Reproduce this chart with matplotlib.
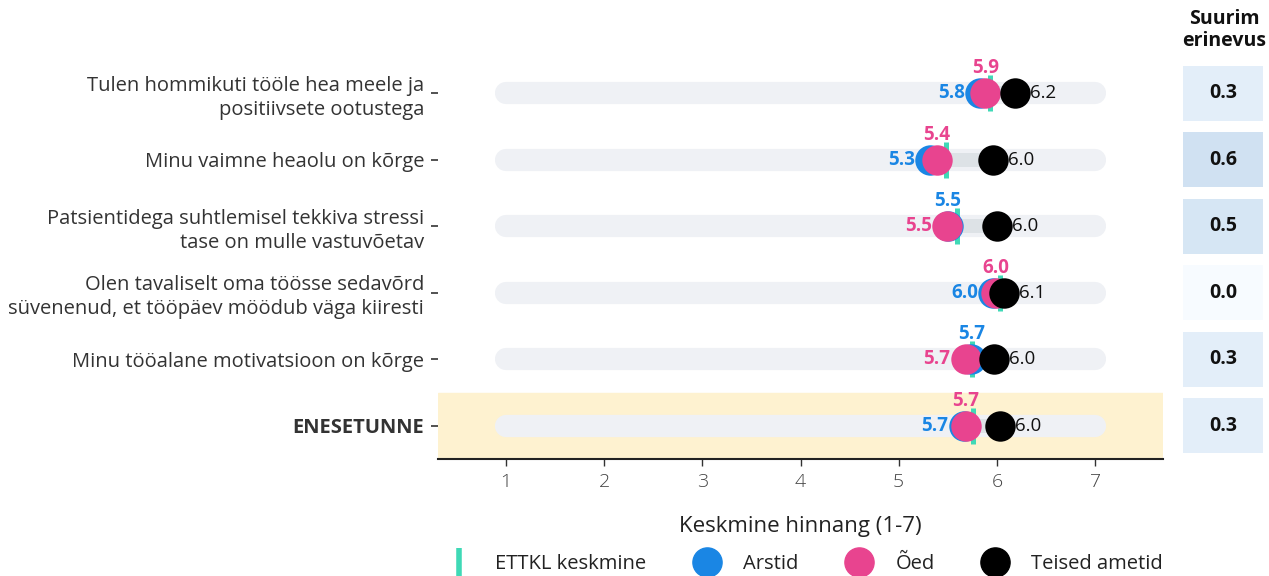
import matplotlib
matplotlib.use("Agg")
import matplotlib.pyplot as plt
from matplotlib.lines import Line2D
import numpy as np

plt.rcParams['font.family'] = ['Open Sans', 'DejaVu Sans']

categories = [
    "Tulen hommikuti tööle hea meele ja\npositiivsete ootustega",
    "Minu vaimne heaolu on kõrge",
    "Patsientidega suhtlemisel tekkiva stressi\ntase on mulle vastuvõetav",
    "Olen tavaliselt oma töösse sedavõrd\nsüvenenud, et tööpäev möödub väga kiiresti",
    "Minu tööalane motivatsioon on kõrge",
    "ENESETUNNE",
]
ettkl = [5.93, 5.48, 5.59, 6.03, 5.75, 5.76]
arstid = [5.83, 5.32, 5.50, 5.96, 5.74, 5.66]
oed = [5.88, 5.39, 5.49, 5.99, 5.68, 5.68]
teised = [6.18, 5.96, 6.00, 6.07, 5.97, 6.03]
suurim_erinevus = [0.3, 0.6, 0.5, 0.0, 0.3, 0.3]
xticks = [1, 2, 3, 4, 5, 6, 7]

C_TEAL = "#3fd9b6"
C_BLUE = "#1a86e4"
C_PINK = "#e8448f"
C_BLACK = "#000000"
C_TRACK = "#eff1f5"
C_RANGE = "#dde2e6"
C_BAND = "#fef2d0"

W, H = 1269, 576
fig = plt.figure(figsize=(W / 100, H / 100), dpi=100)
ax = fig.add_axes([438 / W, 117 / H, 725 / W, 399 / H])
ax2 = fig.add_axes([1183 / W, 117 / H, 80 / W, 399 / H])

n = len(categories)
ys = np.arange(n)

ax.axhspan(n - 1.5, n - 0.5, color=C_BAND, zorder=0)

for i in range(n):
    y = ys[i]
    ax.plot([xticks[0], xticks[-1]], [y, y], color=C_TRACK, lw=16, solid_capstyle='round', zorder=1)
    vals = [arstid[i], oed[i], teised[i]]
    ax.plot([min(vals), max(vals)], [y, y], color=C_RANGE, lw=10, solid_capstyle='butt', zorder=2)
    ax.plot([ettkl[i], ettkl[i]], [y - 0.27, y + 0.27], color=C_TEAL, lw=3.6, solid_capstyle='butt', zorder=3)

ms = 480
ax.scatter(arstid, ys, s=ms, color=C_BLUE, zorder=4, linewidths=0)
ax.scatter(oed, ys, s=ms, color=C_PINK, zorder=5, linewidths=0)
ax.scatter(teised, ys, s=ms, color=C_BLACK, zorder=6, linewidths=0)

# value labels: lowest left, middle above, highest right
for i in range(n):
    y = ys[i]
    groups = [(arstid[i], C_BLUE), (oed[i], C_PINK), (teised[i], C_BLACK)]
    order = sorted(range(3), key=lambda k: (groups[k][0], k))
    lo, mid, hi = order
    v, c = groups[lo]
    ax.annotate(f"{v:.1f}", (v, y), xytext=(-15, 0), textcoords='offset pixels',
                ha='right', va='center', color=c, fontsize=13.5, fontweight='bold', zorder=7)
    v, c = groups[mid]
    ax.annotate(f"{v:.1f}", (v, y), xytext=(0, 25), textcoords='offset pixels',
                ha='center', va='center', color=c, fontsize=13.5, fontweight='bold', zorder=7)
    v, c = groups[hi]
    ax.annotate(f"{v:.1f}", (v, y), xytext=(15, 0), textcoords='offset pixels',
                ha='left', va='center', color="#111111", fontsize=13.5, zorder=7)

ax.set_xlim(0.31, 7.69)
ax.set_ylim(n - 0.5, -0.5)
ax.set_xticks(xticks)
ax.set_xticklabels([str(t) for t in xticks], fontsize=14, color="#444444", fontweight='light')
ax.set_yticks(ys)
ax.set_yticklabels(categories, fontsize=14.5, color="#333333", linespacing=1.25)
for lbl in ax.get_yticklabels():
    if lbl.get_text() == "ENESETUNNE":
        lbl.set_fontweight('bold')
ax.tick_params(axis='y', length=5, width=1.2, color="#333333", pad=5)
ax.tick_params(axis='x', length=5, width=1.0, color="#333333", pad=5)
for s in ['top', 'right', 'left']:
    ax.spines[s].set_visible(False)
ax.spines['bottom'].set_color("#222222")
ax.spines['bottom'].set_linewidth(1.5)
ax.set_xlabel("Keskmine hinnang (1-7)", fontsize=16, color="#222222", labelpad=18)

# heat column
cmap = plt.get_cmap('Blues')
cell_colors = [cmap(v / 3.0) for v in suurim_erinevus]
ax2.barh(ys, [1] * n, height=0.82, left=0, color=cell_colors, zorder=1)
for i in range(n):
    ax2.text(0.5, ys[i], f"{suurim_erinevus[i]:.1f}", ha='center', va='center',
             fontsize=14, fontweight='bold', color="#111111")
ax2.set_xlim(0, 1)
ax2.set_ylim(n - 0.5, -0.5)
ax2.axis('off')
fig.text(1224 / W, 1 - 30 / H, "Suurim\nerinevus", ha='center', va='center',
         fontsize=14, fontweight='bold', color="#111111", linespacing=1.2)

# legend
handles = [
    Line2D([], [], marker='|', color=C_TEAL, markersize=20, markeredgewidth=4, linestyle='none'),
    Line2D([], [], marker='o', color='none', markerfacecolor=C_BLUE, markeredgecolor=C_BLUE, markersize=21),
    Line2D([], [], marker='o', color='none', markerfacecolor=C_PINK, markeredgecolor=C_PINK, markersize=21),
    Line2D([], [], marker='o', color='none', markerfacecolor=C_BLACK, markeredgecolor=C_BLACK, markersize=21),
]
labels = ["ETTKL keskmine", "Arstid", "Õed", "Teised ametid"]
fig.legend(handles, labels, loc='center', bbox_to_anchor=(803 / W, 1 - 564 / H), ncol=4,
           frameon=False, fontsize=14.5, handletextpad=1.0, columnspacing=2.2,
           handlelength=1.6, borderaxespad=0, labelcolor="#222222")

fig.savefig("out.png", dpi=100)
